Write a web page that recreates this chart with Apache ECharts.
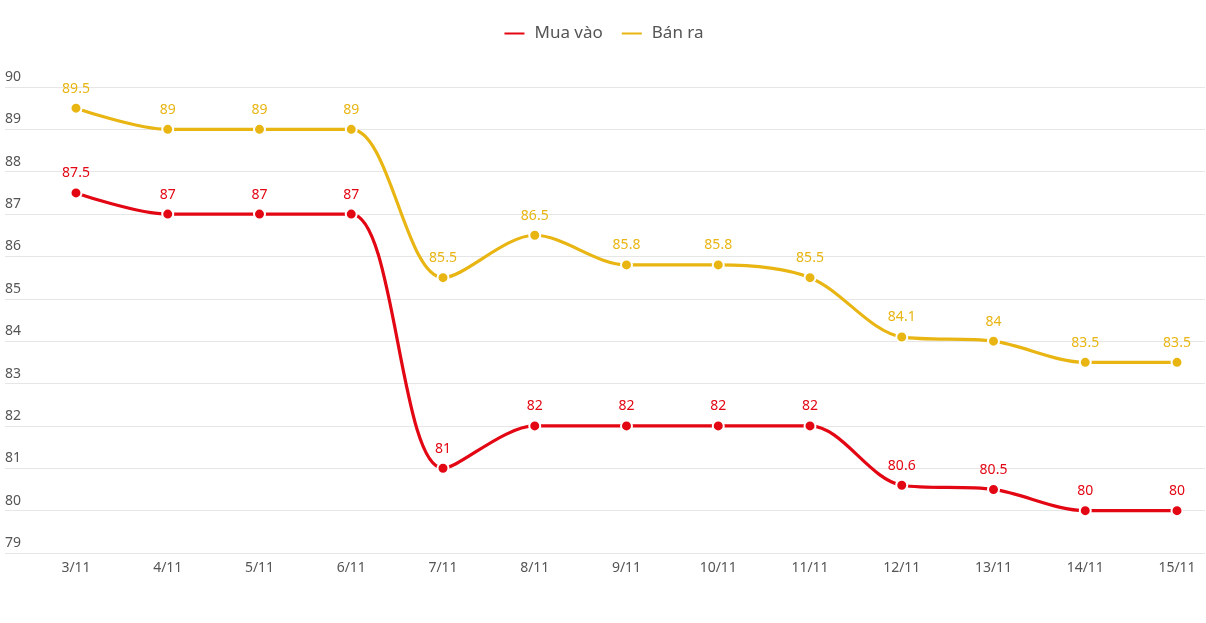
<!DOCTYPE html>
<html>
<head>
<meta charset="utf-8">
<script src="https://cdn.jsdelivr.net/npm/echarts@6/dist/echarts.min.js"></script>
<style>html,body{margin:0;padding:0;background:#fff;}#c{width:1206px;height:623px;}</style>
</head>
<body>
<div id="c"></div>
<script>
const categories = ['3/11','4/11','5/11','6/11','7/11','8/11','9/11','10/11','11/11','12/11','13/11','14/11','15/11'];
const muaVao = [87.5, 87, 87, 87, 81, 82, 82, 82, 82, 80.6, 80.5, 80, 80];
const banRa = [89.5, 89, 89, 89, 85.5, 86.5, 85.8, 85.8, 85.5, 84.1, 84, 83.5, 83.5];
const seriesNames = ['Mua vào', 'Bán ra'];
const yMin = 79, yMax = 90;

const RED = '#e30613', YEL = '#e8b512';
const FONT = 'Noto Sans';

function mkSeries(name, data, color) {
  return {
    name, type: 'line', data, xAxisIndex: 1, yAxisIndex: 1,
    smooth: 0.32,
    symbol: 'circle', symbolSize: 11,
    lineStyle: { color, width: 3.2 },
    itemStyle: { color, borderColor: '#fff', borderWidth: 2 },
    label: { show: true, position: 'top', distance: 6, color, fontSize: 14, fontFamily: FONT },
    emphasis: { disabled: true }
  };
}

const chart = echarts.init(document.getElementById('c'));
chart.setOption({
  animation: false,
  backgroundColor: '#fff',
  textStyle: { fontFamily: FONT },
  legend: {
    top: 20, left: 'center', itemWidth: 22, itemHeight: 4, itemGap: 17,
    icon: 'roundRect',
    textStyle: { fontSize: 17, color: '#555', fontFamily: FONT, padding: [0, 0, 0, 4] },
    data: [
      { name: seriesNames[0], itemStyle: { color: RED } },
      { name: seriesNames[1], itemStyle: { color: YEL } }
    ]
  },
  grid: [
    { left: 5, right: 1, top: 87, bottom: 70 },
    { left: 76, right: 29, top: 87, bottom: 70 }
  ],
  xAxis: [
    { type: 'value', gridIndex: 0, show: false, min: 0, max: 1 },
    {
      type: 'category', gridIndex: 1, data: categories, boundaryGap: false,
      axisLine: { show: false }, axisTick: { show: false }, splitLine: { show: false },
      axisLabel: { color: '#555', fontSize: 14, margin: 8, fontFamily: FONT }
    }
  ],
  yAxis: [
    {
      type: 'value', gridIndex: 0, min: yMin, max: yMax, interval: 1,
      axisLine: { show: false }, axisTick: { show: false },
      splitLine: { lineStyle: { color: '#e6e6e6', width: 1 } },
      axisLabel: { inside: true, margin: 0, verticalAlign: 'bottom', padding: [0, 0, 3, 0], color: '#555', fontSize: 14, fontFamily: FONT }
    },
    { type: 'value', gridIndex: 1, min: yMin, max: yMax, show: false }
  ],
  series: [
    mkSeries(seriesNames[0], muaVao, RED),
    mkSeries(seriesNames[1], banRa, YEL)
  ]
});
</script>
</body>
</html>
